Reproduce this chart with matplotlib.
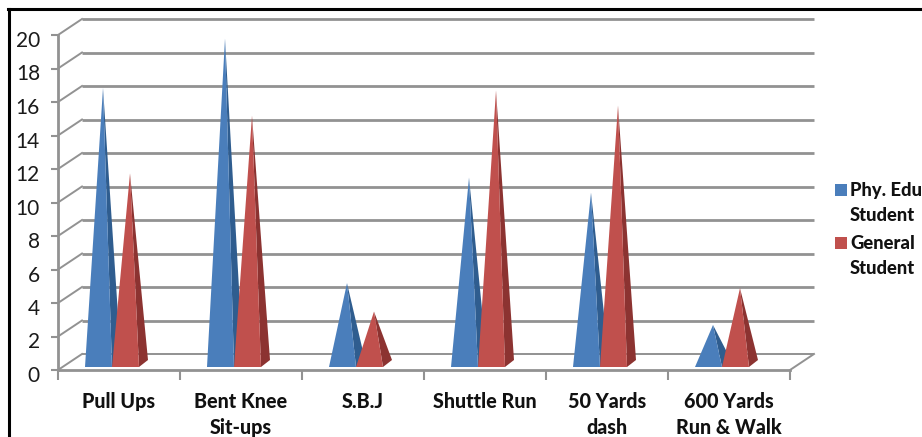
import matplotlib
matplotlib.use("Agg")
import matplotlib.pyplot as plt
from matplotlib.lines import Line2D
from matplotlib.patches import Polygon, Rectangle
from matplotlib.transforms import ScaledTranslation

categories = ["Pull Ups", "Bent Knee\nSit-ups", "S.B.J", "Shuttle Run", "50 Yards\ndash", "600 Yards\nRun & Walk"]
phy_edu = [16.45, 19.4, 4.8, 11.1, 10.2, 2.3]
general = [11.35, 14.8, 3.1, 16.3, 15.4, 4.5]
series_names = ["Phy. Edu\nStudent", "General\nStudent"]
y_ticks = list(range(0, 21, 2))

W, H = 922, 437
fig = plt.figure(figsize=(W / 100, H / 100), dpi=100)
plt.rcParams['font.family'] = ['Lato', 'DejaVu Sans']
ax = fig.add_axes([58 / W, 1 - 370 / H, 732 / W, 335 / H])
ax.set_xlim(0, 6)
ax.set_ylim(0, 20)

# 3D wall offset in data units
WX, WY = 24 / 122, 16 / 16.75
GRID = "#929292"
BLUE, BLUE_SIDE = "#4a7ebb", "#2f5d8f"
RED, RED_SIDE = "#c0504d", "#8c3331"
for v in y_ticks:
    ax.plot([WX, 6 + WX], [v + WY, v + WY], color=GRID, lw=2.0 if v else 1.4, clip_on=False, zorder=1,
            solid_capstyle="butt")
    ax.plot([0, WX], [v, v + WY], color=GRID, lw=1.4, clip_on=False, zorder=1)
ax.plot([6, 6 + WX], [0, WY], color=GRID, lw=1.4, clip_on=False, zorder=1)

# Pyramids
BW = 27 / 122
GAP0 = 27 / 122
BASE = 3 / 16.75
PX, PY = 9 / 122, 7 / 16.75


def pyramid(x0, value, front, side):
    x1 = x0 + BW
    xc = (x0 + x1) / 2 + PX / 2
    top = value + BASE + PY / 2
    ax.add_patch(Polygon([(x1, BASE), (x1 + PX, BASE + PY), (xc, top)], closed=True, fc=side, ec="none",
                         clip_on=False, zorder=3))
    ax.add_patch(Polygon([(x0, BASE), (x1, BASE), (xc, top)], closed=True, fc=front, ec="none",
                         clip_on=False, zorder=3))


for i, a in enumerate(phy_edu):
    pyramid(i + GAP0, a, BLUE, BLUE_SIDE)
for i, b in enumerate(general):
    pyramid(i + GAP0 + BW, b, RED, RED_SIDE)

# Axes
for s in ("top", "right"):
    ax.spines[s].set_visible(False)
for s in ("left", "bottom"):
    ax.spines[s].set_color(GRID)
    ax.spines[s].set_linewidth(2)
    ax.spines[s].set_zorder(2)
ax.patch.set_alpha(0)
ax.set_yticks(y_ticks)
ax.tick_params(axis="y", length=5, width=1.5, color=GRID, labelsize=15, pad=8, labelcolor="#1a1a1a")
ax.set_xticks(range(7))
ax.set_xticklabels([])
ax.tick_params(axis="x", which="major", length=7, width=1.5, color=GRID)
ax.set_xticks([i + 0.5 for i in range(6)], minor=True)
ax.set_xticklabels(categories, minor=True, fontweight=900, fontsize=14.2, color="#111111", linespacing=1.42)
ax.tick_params(axis="x", which="minor", length=0, pad=16)

shift = ScaledTranslation(0, -4 / 100, fig.dpi_scale_trans)
for lab in ax.get_yticklabels():
    lab.set_transform(lab.get_transform() + shift)

# Legend, drawn by hand so each swatch sits on the first line of its entry
for name, color, y_top in zip(series_names, (BLUE, RED), (184, 237)):
    fig.add_artist(Rectangle((835 / W, 1 - (y_top + 11.5) / H), 12 / W, 11.5 / H, transform=fig.transFigure,
                             fc=color, ec="none"))
    fig.text(850 / W, 1 - (y_top + 19) / H, name, ha="left", va="center", fontweight=900, fontsize=13.2,
             color="#111111", linespacing=1.58)

# Picture frame
fig.add_artist(Line2D([8.5 / W, 8.5 / W], [0, 1 - 9 / H], color="black", lw=2.2))
fig.add_artist(Line2D([8 / W, 1], [1 - 9 / H, 1 - 9 / H], color="black", lw=2.2))

fig.savefig("out.png", dpi=100)
